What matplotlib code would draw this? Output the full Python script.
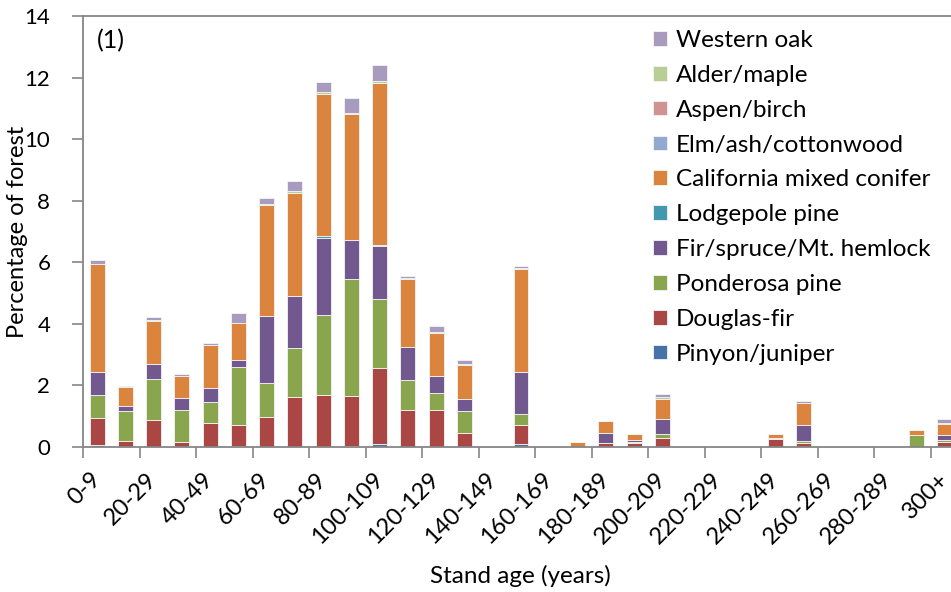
import matplotlib
matplotlib.use("Agg")
import matplotlib.pyplot as plt
import numpy as np

plt.rcParams['font.family'] = ['Lato', 'DejaVu Sans']

categories = ["0-9", "10-19", "20-29", "30-39", "40-49", "50-59", "60-69", "70-79",
              "80-89", "90-99", "100-109", "110-119", "120-129", "130-139", "140-149",
              "150-159", "160-169", "170-179", "180-189", "190-199", "200-209",
              "210-219", "220-229", "230-239", "240-249", "250-259", "260-269",
              "270-279", "280-289", "290-299", "300+"]

pinyon_juniper = [0.05, 0, 0, 0, 0, 0.04, 0, 0, 0, 0.02, 0.11, 0, 0, 0, 0,
                  0.09, 0, 0, 0, 0, 0, 0, 0, 0, 0, 0, 0, 0, 0, 0, 0]
douglas_fir = [0.90, 0.20, 0.88, 0.16, 0.77, 0.68, 0.98, 1.63, 1.68, 1.63, 2.45, 1.21, 1.21, 0.46, 0,
               0.63, 0, 0, 0.12, 0.12, 0.30, 0, 0, 0, 0.25, 0.14, 0, 0, 0, 0, 0.17]
ponderosa_pine = [0.74, 0.98, 1.33, 1.05, 0.70, 1.87, 1.11, 1.60, 2.60, 3.80, 2.26, 0.96, 0.56, 0.70, 0,
                  0.36, 0, 0, 0, 0.05, 0.12, 0, 0, 0, 0.03, 0.07, 0, 0, 0, 0.38, 0.06]
fir_spruce_hemlock = [0.76, 0.16, 0.48, 0.38, 0.46, 0.22, 2.17, 1.69, 2.52, 1.29, 1.71, 1.08, 0.53, 0.41, 0,
                      1.37, 0, 0, 0.35, 0.06, 0.48, 0, 0, 0, 0, 0.49, 0, 0, 0, 0, 0.15]
lodgepole_pine = [0, 0, 0, 0, 0, 0, 0, 0, 0.07, 0, 0.02, 0, 0, 0, 0,
                  0, 0, 0, 0, 0, 0, 0, 0, 0, 0, 0, 0, 0, 0, 0, 0]
california_mixed_conifer = [3.48, 0.61, 1.41, 0.72, 1.37, 1.22, 3.61, 3.34, 4.60, 4.09, 5.27, 2.21, 1.41, 1.10, 0,
                            3.34, 0, 0.15, 0.36, 0.18, 0.66, 0, 0, 0, 0.15, 0.72, 0, 0, 0, 0.18, 0.38]
elm_ash_cottonwood = [0.01, 0, 0, 0, 0, 0, 0, 0, 0, 0, 0, 0, 0, 0, 0,
                      0, 0, 0, 0, 0, 0, 0, 0, 0, 0, 0, 0, 0, 0, 0, 0]
aspen_birch = [0, 0, 0, 0, 0, 0, 0, 0, 0, 0, 0, 0, 0, 0, 0,
               0, 0, 0, 0, 0, 0, 0, 0, 0, 0, 0, 0, 0, 0, 0, 0]
alder_maple = [0.02, 0, 0.01, 0.01, 0.01, 0.01, 0.03, 0.05, 0.07, 0.01, 0.06, 0.04, 0.01, 0.01, 0,
               0.03, 0, 0, 0, 0, 0.05, 0, 0, 0, 0, 0.02, 0, 0, 0, 0, 0.02]
western_oak = [0.12, 0.02, 0.12, 0.06, 0.08, 0.32, 0.20, 0.34, 0.30, 0.51, 0.54, 0.05, 0.21, 0.14, 0,
               0.06, 0, 0, 0.02, 0.02, 0.11, 0, 0, 0, 0, 0.07, 0, 0, 0, 0, 0.14]

series_names = ["Pinyon/juniper", "Douglas-fir", "Ponderosa pine", "Fir/spruce/Mt. hemlock",
                "Lodgepole pine", "California mixed conifer", "Elm/ash/cottonwood",
                "Aspen/birch", "Alder/maple", "Western oak"]
series_values = [pinyon_juniper, douglas_fir, ponderosa_pine, fir_spruce_hemlock,
                 lodgepole_pine, california_mixed_conifer, elm_ash_cottonwood,
                 aspen_birch, alder_maple, western_oak]
colors = ["#4572A7", "#AA4643", "#89A54E", "#71588F", "#4198AF",
          "#DB843D", "#93A9CF", "#D19392", "#B9CD96", "#A99BBD"]

W, H = 951, 592
fig = plt.figure(figsize=(W / 100, H / 100), dpi=100)
ax = fig.add_axes([83 / W, 1 - 447 / H, 876 / W, (447 - 16) / H])

x = np.arange(len(categories))
bottom = np.zeros(len(categories))
handles = []
for name, vals, c in zip(series_names, series_values, colors):
    v = np.array(vals, dtype=float)
    b = ax.bar(x, v, width=0.53, bottom=bottom, color=c, edgecolor="#f4f4f4",
               linewidth=0.6, label=name)
    handles.append(b)
    bottom += v

ax.set_xlim(-0.5, len(categories) - 0.5)
ax.set_ylim(0, 14)
ax.set_yticks(np.arange(0, 15, 2))
ax.set_xticks(x[::2])
ax.set_xticklabels(categories[::2], rotation=45, ha='right', va='center',
                   rotation_mode='anchor', fontsize=17)
ax.set_xticks(np.arange(-0.5, len(categories), 2), minor=True)
ax.tick_params(axis='x', which='major', length=0, pad=21)
ax.tick_params(axis='x', which='minor', length=8, width=1.2, color="#868686", direction='out')
ax.tick_params(axis='y', length=8, width=1.2, color="#868686", direction='out',
               labelsize=16, pad=15.5)

for s in ['left', 'bottom', 'top']:
    ax.spines[s].set_color("#868686")
    ax.spines[s].set_linewidth(1.3)
ax.spines['right'].set_visible(False)

fig.text(18 / W, 1 - 232 / H, "Percentage of forest", rotation=90, ha='center', va='center',
         fontsize=17)
fig.text(520 / W, 1 - 576 / H, "Stand age (years)", ha='center', va='center', fontsize=17.5)
fig.text(111 / W, 1 - 41 / H, "(1)", ha='center', va='center', fontsize=18)

leg = fig.legend(handles[::-1], series_names[::-1], loc='upper left',
                 bbox_to_anchor=(653 / W, 1 - 30 / H), frameon=False, fontsize=17.5,
                 handlelength=0.57, handleheight=0.55, handletextpad=0.38,
                 labelspacing=0.57, borderpad=0, borderaxespad=0)

fig.savefig("out.png", dpi=100)
